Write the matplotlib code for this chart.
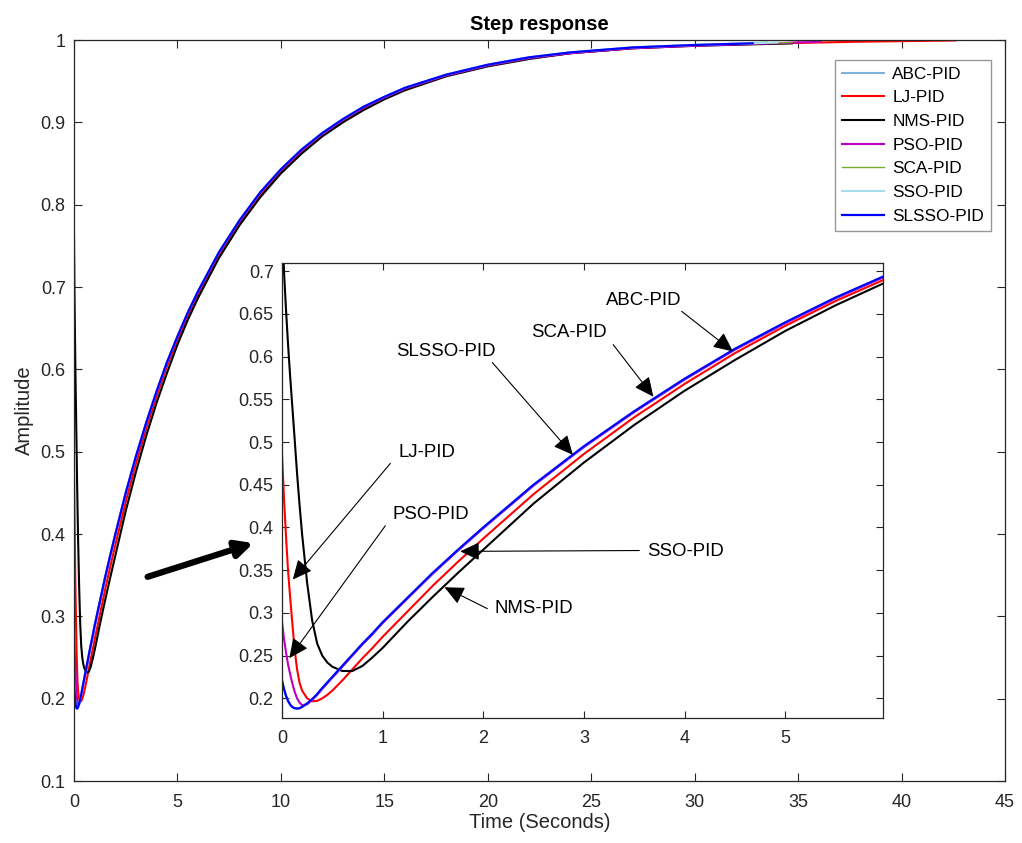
import numpy as np
import matplotlib
matplotlib.use('Agg')
from matplotlib import pyplot as plt

plt.rcParams['font.family'] = ['Liberation Sans', 'DejaVu Sans']

# tiempos comunes (s)
t = [0, 0.02, 0.04, 0.06, 0.08, 0.1, 0.125, 0.15, 0.175, 0.2,
     0.25, 0.3, 0.35, 0.4, 0.45, 0.5, 0.6, 0.7, 0.8, 0.9, 1.0,
     1.25, 1.5, 1.75, 2.0, 2.5, 3.0, 3.5, 4.0, 4.5, 5.0, 5.5, 6.0,
     7, 8, 9, 10, 11, 12, 13, 14, 15, 16, 18, 20, 22, 24, 27, 30]

y_slsso = [0.221, 0.211, 0.203, 0.197, 0.193, 0.190, 0.1885, 0.188, 0.1885, 0.190,
           0.194, 0.199, 0.205, 0.212, 0.2185, 0.225, 0.238, 0.251, 0.264, 0.276, 0.289,
           0.318, 0.347, 0.374, 0.400, 0.450, 0.495, 0.536, 0.574, 0.609, 0.640, 0.669, 0.695,
           0.742, 0.781, 0.815, 0.843, 0.867, 0.887, 0.904, 0.919, 0.931, 0.942,
           0.958, 0.970, 0.979, 0.985, 0.991, 0.994]
y_abc = list(y_slsso)
y_sca = list(y_slsso)
y_sso = list(y_slsso)
y_pso = [0.290, 0.270, 0.254, 0.240, 0.229, 0.219, 0.208, 0.200, 0.195, 0.192,
         0.193, 0.198, 0.204, 0.211, 0.2175, 0.224, 0.237, 0.250, 0.263, 0.275, 0.288,
         0.317, 0.346, 0.373, 0.399, 0.449, 0.494, 0.535, 0.573, 0.608, 0.639, 0.668, 0.694,
         0.741, 0.780, 0.814, 0.842, 0.866, 0.886, 0.903, 0.918, 0.930, 0.941,
         0.957, 0.969, 0.978, 0.984, 0.990, 0.993]
y_lj = [0.487, 0.434, 0.390, 0.350, 0.320, 0.292, 0.258, 0.234, 0.218, 0.209,
        0.200, 0.1965, 0.197, 0.200, 0.204, 0.209, 0.221, 0.234, 0.247, 0.259, 0.272,
        0.302, 0.332, 0.360, 0.387, 0.439, 0.486, 0.529, 0.568, 0.604, 0.636, 0.665, 0.691,
        0.739, 0.778, 0.812, 0.840, 0.865, 0.885, 0.902, 0.917, 0.930, 0.941,
        0.957, 0.969, 0.978, 0.984, 0.990, 0.9935]
y_nms = [0.766, 0.700, 0.655, 0.615, 0.579, 0.546, 0.505, 0.463, 0.426, 0.392,
         0.335, 0.291, 0.264, 0.250, 0.242, 0.237, 0.232, 0.232, 0.238, 0.248, 0.259,
         0.290, 0.319, 0.347, 0.374, 0.428, 0.476, 0.520, 0.560, 0.596, 0.630, 0.660, 0.687,
         0.735, 0.775, 0.809, 0.838, 0.862, 0.883, 0.900, 0.915, 0.928, 0.939,
         0.956, 0.968, 0.977, 0.984, 0.990, 0.993]

# final de cada respuesta (tiempo, valor)
tail_abc = ([33.5], [0.997])
tail_lj = ([34, 38, 42.6], [0.996, 0.998, 0.9995])
tail_nms = ([34.7], [0.996])
tail_pso = ([36.1], [0.998])
tail_sca = ([34.7], [0.997])
tail_sso = ([34.0], [0.997])
tail_slsso = ([32.8], [0.996])

nombres = ['ABC-PID', 'LJ-PID', 'NMS-PID', 'PSO-PID', 'SCA-PID', 'SSO-PID', 'SLSSO-PID']
datos = [y_abc, y_lj, y_nms, y_pso, y_sca, y_sso, y_slsso]
colas = [tail_abc, tail_lj, tail_nms, tail_pso, tail_sca, tail_sso, tail_slsso]
colores = ['#7AB4DC', '#FF0000', '#000000', '#BF00BF', '#77AC30', '#A8DCF0', '#0000FF']
anchos = [1.5, 1.5, 1.5, 1.5, 1.0, 1.5, 1.6]

gris = '#262626'

fig = plt.figure(figsize=(10.22, 8.43), dpi=100)
ax = fig.add_axes([0.0724, 0.0735, 0.911, 0.879])

for nom, y, cola, c, lw in zip(nombres, datos, colas, colores, anchos):
    tt = t + cola[0]
    yy = y + cola[1]
    ax.plot(tt, yy, color=c, lw=lw, label=nom)

ax.set_xlim(0, 45)
ax.set_ylim(0.1, 1)
ax.set_xticks(np.arange(0, 46, 5))
yt = [0.1, 0.2, 0.3, 0.4, 0.5, 0.6, 0.7, 0.8, 0.9, 1]
ax.set_yticks(yt)
ax.set_yticklabels([f'{v:g}' for v in yt])
ax.tick_params(direction='in', top=True, right=True, length=6, width=0.8,
               labelsize=13, colors=gris, labelcolor=gris, pad=6)
ax.tick_params(axis='x', pad=9)
for s in ax.spines.values():
    s.set_color(gris)
    s.set_linewidth(0.9)
ax.set_xlabel('Time (Seconds)', fontsize=14.5, color=gris, labelpad=2)
ax.set_ylabel('Amplitude', fontsize=14.5, color=gris, labelpad=5)
ax.set_title('Step response', fontsize=14.5, fontweight='bold', pad=7)

leg = ax.legend(loc='upper right', bbox_to_anchor=(0.994, 0.985), fontsize=12.4,
                frameon=True, fancybox=False, edgecolor='#7f7f7f', handlelength=2.4,
                labelspacing=0.5, borderpad=0.4, handletextpad=0.5)
leg.get_frame().set_linewidth(1.0)

# flecha gruesa hacia el zoom
ax.annotate('', xy=(8.8, 0.39), xytext=(3.43, 0.347),
            arrowprops=dict(arrowstyle='-|>,head_length=0.5,head_width=0.25',
                            mutation_scale=20, lw=4.5, color='k'))

# zoom
ax2 = fig.add_axes([0.2759, 0.1483, 0.588, 0.5397])
for nom, y, c, lw in zip(nombres, datos, colores, anchos):
    ax2.plot(t, y, color=c, lw=lw)
ax2.set_xlim(0, 5.97)
ax2.set_ylim(0.177, 0.7095)
ax2.set_xticks([0, 1, 2, 3, 4, 5])
yt2 = [0.2, 0.25, 0.3, 0.35, 0.4, 0.45, 0.5, 0.55, 0.6, 0.65, 0.7]
ax2.set_yticks(yt2)
ax2.set_yticklabels([f'{v:g}' for v in yt2])
ax2.tick_params(direction='in', top=True, right=True, length=5, width=0.8,
                labelsize=13, colors=gris, labelcolor=gris, pad=6)
ax2.tick_params(axis='x', pad=9)
for s in ax2.spines.values():
    s.set_color(gris)
    s.set_linewidth(0.9)

flecha = dict(arrowstyle='-|>,head_length=0.6,head_width=0.28', mutation_scale=20,
              lw=0.8, color='k', shrinkA=0, shrinkB=0)

# (texto, posicion texto, cola, punta, alineacion)
notas = [
    ('SLSSO-PID', (1.63, 0.606), (2.09, 0.593), (2.89, 0.485), 'center'),
    ('LJ-PID', (1.44, 0.488), (1.077, 0.475), (0.107, 0.339), 'center'),
    ('PSO-PID', (1.48, 0.415), (1.027, 0.402), (0.073, 0.247), 'center'),
    ('NMS-PID', (2.50, 0.305), (2.04, 0.305), (1.615, 0.330), 'center'),
    ('SSO-PID', (3.63, 0.372), (3.55, 0.373), (1.77, 0.372), 'left'),
    ('SCA-PID', (2.85, 0.628), (3.29, 0.614), (3.69, 0.553), 'center'),
    ('ABC-PID', (3.59, 0.666), (3.97, 0.653), (4.48, 0.606), 'center'),
]
for txt, pos, cola, punta, ha in notas:
    ax2.annotate('', xy=punta, xytext=cola, arrowprops=flecha)
    ax2.text(pos[0], pos[1], txt, ha=ha, va='center', fontsize=13.4)

fig.savefig('out.png', dpi=100)
